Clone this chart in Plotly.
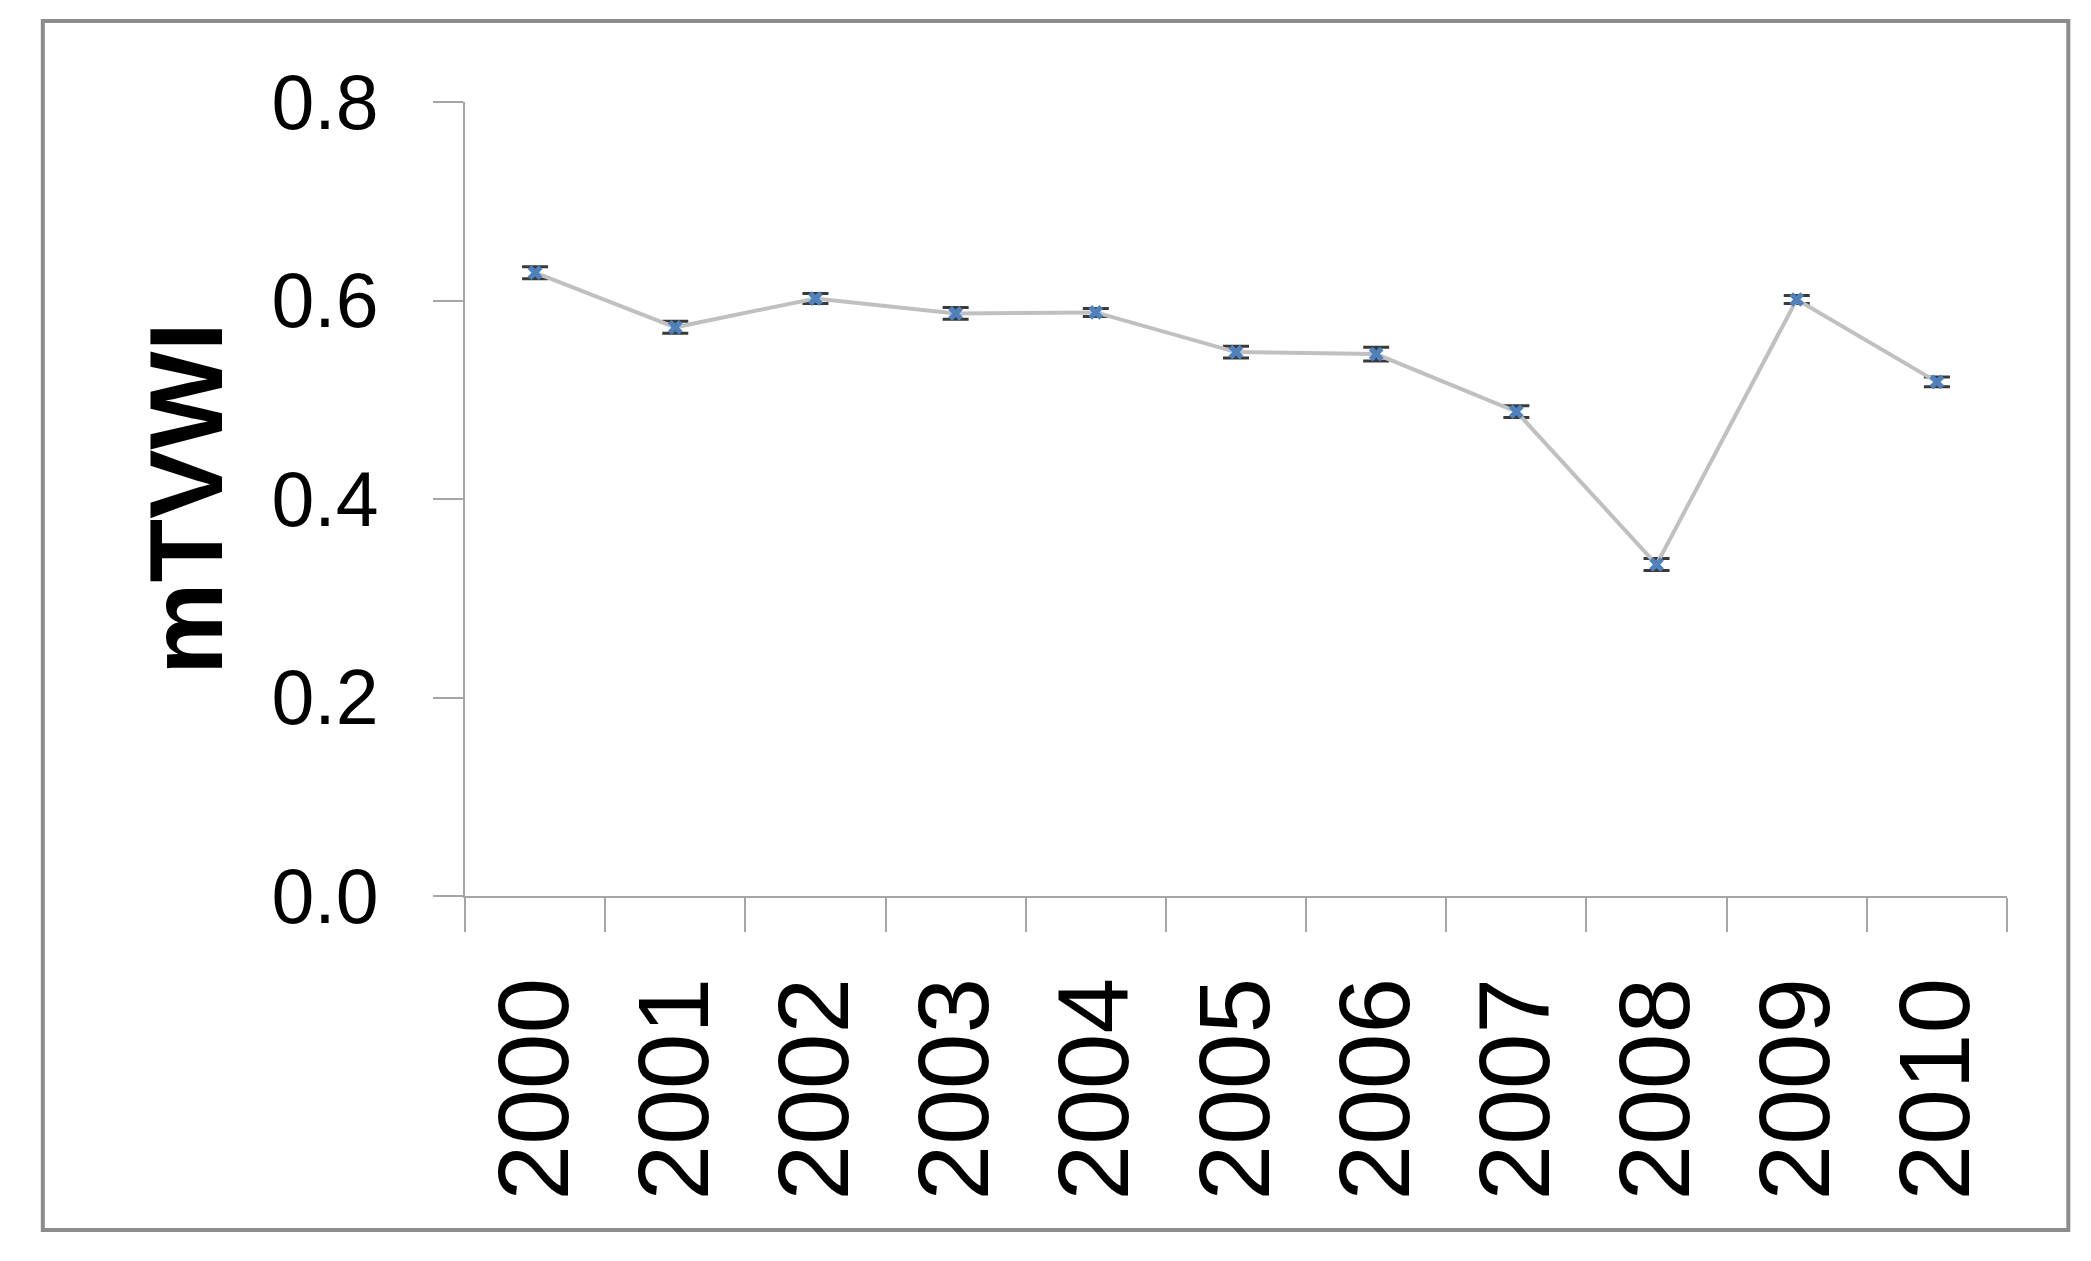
import plotly.graph_objects as go

years = ["2000", "2001", "2002", "2003", "2004", "2005", "2006", "2007", "2008", "2009", "2010"]
mtvwi = [0.628, 0.573, 0.602, 0.587, 0.588, 0.548, 0.546, 0.488, 0.334, 0.601, 0.518]
errors = [0.006, 0.006, 0.005, 0.006, 0.004, 0.006, 0.007, 0.006, 0.006, 0.004, 0.005]
y_ticks = [0.0, 0.2, 0.4, 0.6, 0.8]
y_tick_text = ["0.0", "0.2", "0.4", "0.6", "0.8"]

FONT = "Liberation Sans"
AXIS_GRAY = "#A6A6A6"

# plot area (page pixels): x 465..1999, y 102..896; page has 8px body offset
L, R, T, B = 457, 2091 - 1999, 94, 1261 - 896 + 8

fig = go.Figure()
fig.add_trace(go.Scatter(
    x=years, y=mtvwi,
    mode="lines+markers",
    line=dict(color="#C0C0C0", width=4),
    marker=dict(symbol="x", size=13, color="#4F81BD", line=dict(width=0)),
    error_y=dict(type="data", array=errors, visible=True, color="#3A3A3A", thickness=3, width=13),
    showlegend=False,
))

fig.update_layout(
    width=2091, height=1261,
    margin=dict(l=L, r=R, t=T, b=B),
    paper_bgcolor="white", plot_bgcolor="white",
    font=dict(family=FONT, color="black"),
    xaxis=dict(
        type="category", range=[-0.5, 10.5],
        showline=True, linecolor=AXIS_GRAY, linewidth=2,
        ticks="outside", tickson="boundaries", ticklen=34, tickwidth=2, tickcolor=AXIS_GRAY,
        tickangle=-90, tickfont=dict(size=100, family=FONT, color="black"),
        showgrid=False, zeroline=False, ticklabelstandoff=40,
    ),
    yaxis=dict(
        range=[0, 0.8], tickvals=y_ticks, ticktext=y_tick_text,
        showline=True, linecolor=AXIS_GRAY, linewidth=2,
        ticks="outside", ticklen=30, tickwidth=2, tickcolor=AXIS_GRAY,
        tickfont=dict(size=77, family=FONT, color="black"),
        showgrid=False, zeroline=False, ticklabelstandoff=39,
    ),
    annotations=[dict(
        text="<b>mTVWI</b>", textangle=-90, xref="paper", yref="paper",
        x=-0.181, y=0.5, xanchor="center", yanchor="middle", showarrow=False,
        font=dict(size=104, family=FONT, color="black"),
    )],
    shapes=[dict(
        type="rect", xref="paper", yref="paper",
        x0=(45 - 465) / 1534, x1=(2060 - 465) / 1534,
        y0=(896 - 1230) / 794, y1=(896 - 21) / 794,
        line=dict(color="#8C8C8C", width=4), fillcolor="rgba(0,0,0,0)", layer="below",
    )],
)

fig.write_html("out.html")
